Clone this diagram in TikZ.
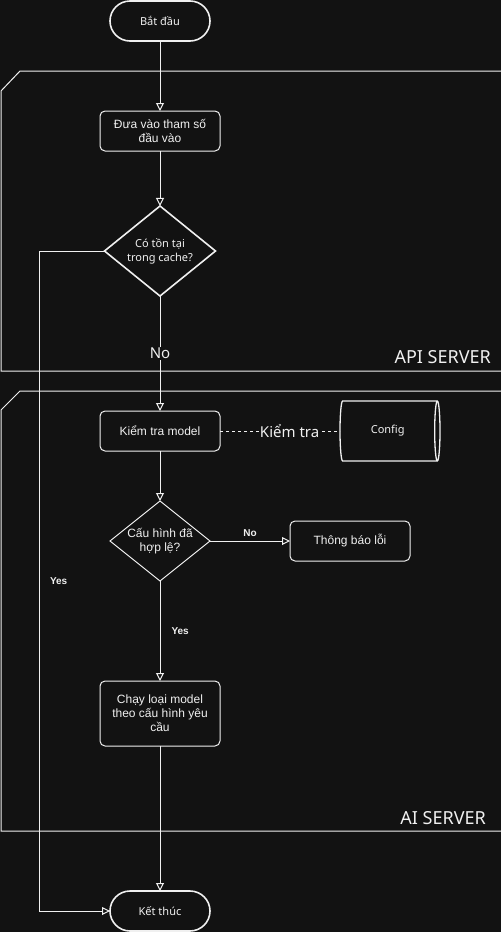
\documentclass[tikz,border=0pt]{standalone}
\usepackage{fontspec}
\setmainfont{Liberation Sans}
\newfontfamily\sketchfont{Noto Sans}
\usetikzlibrary{arrows.meta, positioning, shapes.geometric}
\definecolor{bgcol}{HTML}{121212}
\definecolor{ink}{HTML}{F0F0F0}
\tikzset{
  block/.style    = {draw=ink, rectangle, rounded corners=5pt, align=center,
                     text=ink, font=\fontsize{12}{14}\selectfont, line width=1pt,
                     minimum height=40pt, minimum width=120pt, inner sep=2pt,
                     outer sep=0pt},
  term/.style     = {draw=ink, rectangle, rounded corners=20pt, text=ink,
                     font=\sketchfont\fontsize{11}{13}\selectfont, line width=1.6pt,
                     minimum height=40pt, minimum width=100pt, outer sep=0pt},
  decision/.style = {draw=ink, diamond, aspect=1.25, align=center, text=ink,
                     inner sep=0pt, outer sep=0pt, line width=1pt,
                     font=\fontsize{12}{14}\selectfont},
  store/.style    = {draw=ink, cylinder, shape aspect=0.3, text=ink, line width=1.3pt,
                     font=\sketchfont\fontsize{11}{13}\selectfont, outer sep=0pt,
                     minimum height=100pt, minimum width=60pt},
  arr/.style      = {-{Triangle[open, length=8pt, width=8pt]}, draw=ink, line width=1pt},
  lbl/.style      = {text=ink, font=\bfseries\fontsize{10}{12}\selectfont, inner sep=1pt},
  hand/.style     = {text=ink, font=\sketchfont\fontsize{15}{17}\selectfont,
                     fill=bgcol, inner sep=1pt},
  frame/.style    = {draw=ink, line width=1pt},
  title/.style    = {text=ink, font=\sketchfont\fontsize{18}{20}\selectfont,
                     anchor=base east, inner sep=0pt}
}

\begin{document}
\begin{tikzpicture}[x=1pt, y=-1pt]

  % ── Canvas ──────────────────────────────────────────────────────────────
  \fill[bgcol] (0,0) rectangle (501,932);
  \useasboundingbox (0,0) rectangle (501,932);

  % ── Server frames ───────────────────────────────────────────────────────
  \draw[frame] (501,371) -- (1,371) -- (1,91) -- (20,71) -- (501,71);
  \node[title] (apititle) at (491,363) {API SERVER};
  \draw[frame] (501,831) -- (1,831) -- (1,410) -- (20,391) -- (501,391);
  \node[title] (aititle)  at (486,824) {AI SERVER};

  % ── Flow (API server) ───────────────────────────────────────────────────
  \node[term]                        (start) at (160,21) {Bắt đầu};
  \node[block, below=70pt of start]  (input) {Đưa vào tham số\\đầu vào};
  \node[decision, below=55pt of input, line width=1.6pt,
        minimum width=111pt, minimum height=90pt,
        font=\sketchfont\fontsize{11}{14}\selectfont]
        (cache) {Có tồn tại\\trong cache?};

  % ── Flow (AI server) ────────────────────────────────────────────────────
  \node[block, below=115pt of cache] (check)  {Kiểm tra model};
  \node[store, right=120pt of check] (config) {Config};
  \node[decision, below=50pt of check,
        minimum width=100pt, minimum height=80pt]
        (valid) {Cấu hình đã\\hợp lệ?};
  \node[block, right=80pt of valid]  (error)  {Thông báo lỗi};
  \node[block, below=100pt of valid, minimum height=65pt]
        (run) {Chạy loại model\\theo cấu hình yêu\\cầu};
  \node[term, below=145pt of run]    (stop)   {Kết thúc};

  % cache hit bypass
  \coordinate[left=65pt of cache.west] (yescol);

  % ── Connections ─────────────────────────────────────────────────────────
  \draw[arr] (start) -- (input);
  \draw[arr] (input) -- (cache);
  \draw[arr] (cache) -- node[hand]{No} (check);
  \draw[arr] (cache.west) -- (yescol)
             |- node[lbl, pos=0.25, right=9pt]{Yes} (stop.west);

  \draw[ink, line width=1pt, dash pattern=on 3pt off 3pt]
       (check) -- node[hand, pos=0.58]{Kiểm tra} (config);
  \draw[arr] (check) -- (valid);
  \draw[arr] (valid) -- node[lbl, above=3pt]{No} (error);
  \draw[arr] (valid) -- node[lbl, right=10pt]{Yes} (run);
  \draw[arr] (run)   -- (stop);

\end{tikzpicture}
\end{document}
